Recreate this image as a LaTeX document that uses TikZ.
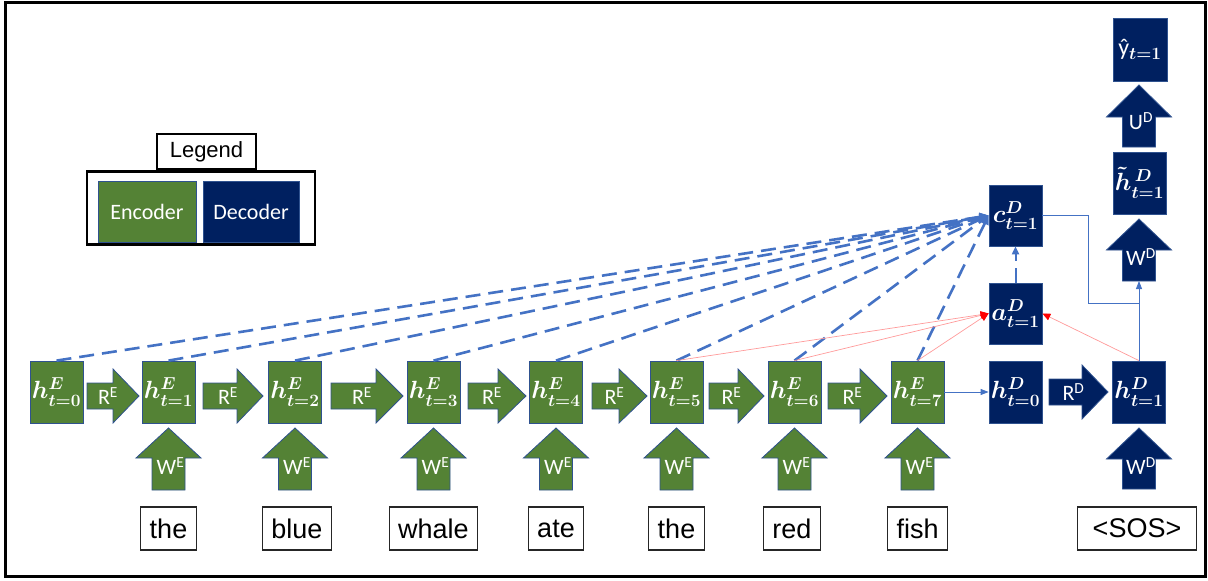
\documentclass[tikz,border=0pt]{standalone}
\usepackage[no-math]{fontspec}
\setmainfont{Liberation Sans}
\newfontfamily\carlito{Carlito}
\usetikzlibrary{arrows.meta}
\definecolor{encg}{HTML}{548235}
\definecolor{decb}{HTML}{002060}
\definecolor{bord}{HTML}{2F528F}
\definecolor{dashb}{HTML}{4472C4}
\definecolor{redl}{HTML}{FF9A9A}
\tikzset{
  encbox/.style={draw=bord,line width=0.8pt,fill=encg,minimum width=53pt,minimum height=62pt,inner sep=0pt,text=white,font=\fontsize{24}{26}\selectfont\boldmath},
  decbox/.style={encbox,fill=decb},
  word/.style={draw=black!85,line width=1.2pt,minimum height=43pt,inner ysep=0pt,inner xsep=9pt,font=\fontsize{27}{30}\selectfont},
  lbl/.style={text=white,inner sep=0pt,font=\carlito\fontsize{22}{24}\selectfont},
  blockpath/.style={draw=bord,line width=0.8pt},
  att/.style={draw=dashb,line width=2.6pt,dash pattern=on 15pt off 8pt,-{Triangle[length=9pt,width=8pt]}},
  thinb/.style={draw=dashb,line width=0.8pt},
  redarr/.style={draw=redl,line width=0.7pt,-{Triangle[length=8pt,width=7pt,fill=red,color=red]}},
}
\newcommand{\rblock}[7]{%
  \path[blockpath,fill=#6] (#2,#5-13) -- (#3,#5-13) -- (#3,#5-27) -- (#4,#5) -- (#3,#5+27) -- (#3,#5+13) -- (#2,#5+13) -- cycle;
  \node[lbl] (#1) at ({(#2+#4)/2-5},#5) {#7};
}
\newcommand{\ublock}[8]{%
  \path[blockpath,fill=#6] (#2-16.5,#5) -- (#2-16.5,#4) -- (#2-32.5,#4) -- (#2,#3) -- (#2+32.5,#4) -- (#2+16.5,#4) -- (#2+16.5,#5) -- cycle;
  \node[lbl] (#1) at (#2+2,#4+#8) {#7};
}
\begin{document}
\begin{tikzpicture}[x=1pt,y=-1pt]
\useasboundingbox (0,0) rectangle (1208,581);
\draw[line width=3pt,black] (5.5,2) rectangle (1205,576);

% legend
\node[draw=black,line width=2.5pt,minimum width=99pt,minimum height=35pt,inner sep=0pt,font=\fontsize{22}{24}\selectfont] (legt) at (206.5,151.5) {Legend};
\node[draw=black,line width=2.5pt,minimum width=228pt,minimum height=73pt,inner sep=0pt] (lego) at (201,208) {};
\node[encbox,minimum width=98pt,minimum height=61pt,font=\carlito\fontsize{22}{24}\selectfont] (lenc) at (147,212) {Encoder};
\node[decbox,minimum width=96pt,minimum height=61pt,font=\carlito\fontsize{22}{24}\selectfont] (ldec) at (251,212) {Decoder};

% encoder states
\node[encbox] (e0) at (56.5,392) {$h^E_{t=0}$};
\node[encbox] (e1) at (168.5,392) {$h^E_{t=1}$};
\node[encbox] (e2) at (295,392) {$h^E_{t=2}$};
\node[encbox] (e3) at (433.5,392) {$h^E_{t=3}$};
\node[encbox] (e4) at (556,392) {$h^E_{t=4}$};
\node[encbox] (e5) at (676.5,392) {$h^E_{t=5}$};
\node[encbox] (e6) at (794.5,392) {$h^E_{t=6}$};
\node[encbox] (e7) at (917.5,392) {$h^E_{t=7}$};

% decoder states
\node[decbox] (d0) at (1015.5,392) {$h^D_{t=0}$};
\node[decbox] (d1) at (1139,392) {$h^D_{t=1}$};
\node[decbox,minimum height=61pt] (a) at (1015.5,313.5) {$a^D_{t=1}$};
\node[decbox,minimum height=61pt] (c) at (1015.5,215.5) {$c^D_{t=1}$};
\node[decbox] (ht) at (1139.5,183) {$\tilde{h}^{\,D}_{t=1}$};
\node[decbox,minimum width=54pt,minimum height=63pt] (yh) at (1140,49.5) {{\carlito ŷ}$_{t=1}$};

% recurrent block arrows
\rblock{r1}{87}{113}{139}{396}{encg}{R\textsuperscript{E}}
\rblock{r2}{203}{237}{263}{396}{encg}{R\textsuperscript{E}}
\rblock{r3}{331}{376}{403}{396}{encg}{R\textsuperscript{E}}
\rblock{r4}{468}{498}{526}{396}{encg}{R\textsuperscript{E}}
\rblock{r5}{592}{619}{647}{396}{encg}{R\textsuperscript{E}}
\rblock{r6}{709}{738}{764}{396}{encg}{R\textsuperscript{E}}
\rblock{r7}{828}{860}{887}{396}{encg}{R\textsuperscript{E}}
\rblock{rd}{1049}{1082}{1108}{392}{decb}{R\textsuperscript{D}}

% input block arrows
\ublock{w1}{168.5}{428}{458}{490}{encg}{W\textsuperscript{E}}{8}
\ublock{w2}{295}{428}{458}{490}{encg}{W\textsuperscript{E}}{8}
\ublock{w3}{433.5}{428}{458}{490}{encg}{W\textsuperscript{E}}{8}
\ublock{w4}{556}{428}{458}{490}{encg}{W\textsuperscript{E}}{8}
\ublock{w5}{676.5}{428}{458}{490}{encg}{W\textsuperscript{E}}{8}
\ublock{w6}{794.5}{428}{458}{490}{encg}{W\textsuperscript{E}}{8}
\ublock{w7}{917.5}{428}{458}{490}{encg}{W\textsuperscript{E}}{8}
\ublock{wd1}{1139}{428}{459}{489}{decb}{W\textsuperscript{D}}{7}
\ublock{wd2}{1139}{219}{250}{281}{decb}{W\textsuperscript{D}}{7}
\ublock{ud}{1139}{85}{117}{147}{decb}{U\textsuperscript{D}}{4}
\coordinate (wd2bot) at (1139,281);

% words
\node[word] (t1) at (168.5,528.5) {the};
\node[word] (t2) at (297,528.5) {blue};
\node[word] (t3) at (433.5,528.5) {whale};
\node[word] (t4) at (556,528.5) {ate};
\node[word] (t5) at (676.5,528.5) {the};
\node[word] (t6) at (792,528.5) {red};
\node[word] (t7) at (917.5,528.5) {fish};
\node[word,inner xsep=15pt] (t8) at (1137,528.5) {<SOS>};

% attention connectors
\foreach \e in {e0,e1,e2,e3,e4,e5,e6,e7}{
  \draw[att] (\e.north) -- (c.west);
}
\draw[redarr] (e5.north) -- (a.west);
\draw[redarr] (e6.north) -- (a.west);
\draw[redarr] (e7.north) -- (a.west);
\draw[redarr] (d1.north) -- (a.east);
\draw[draw=dashb,line width=2pt,dash pattern=on 15pt off 7pt,-{Triangle[length=8pt,width=7pt]}] (a.north) -- (c.south);

\draw[thinb,-{Triangle[length=8pt,width=6pt]}] (e7.east) -- (d0.west);
\coordinate (join) at (1139,303);
\draw[thinb] (c.east) -- ++(46,0) |- (join);
\draw[thinb,-{Triangle[length=8pt,width=6pt]}] (d1.north) -- (wd2bot);
\end{tikzpicture}
\end{document}
